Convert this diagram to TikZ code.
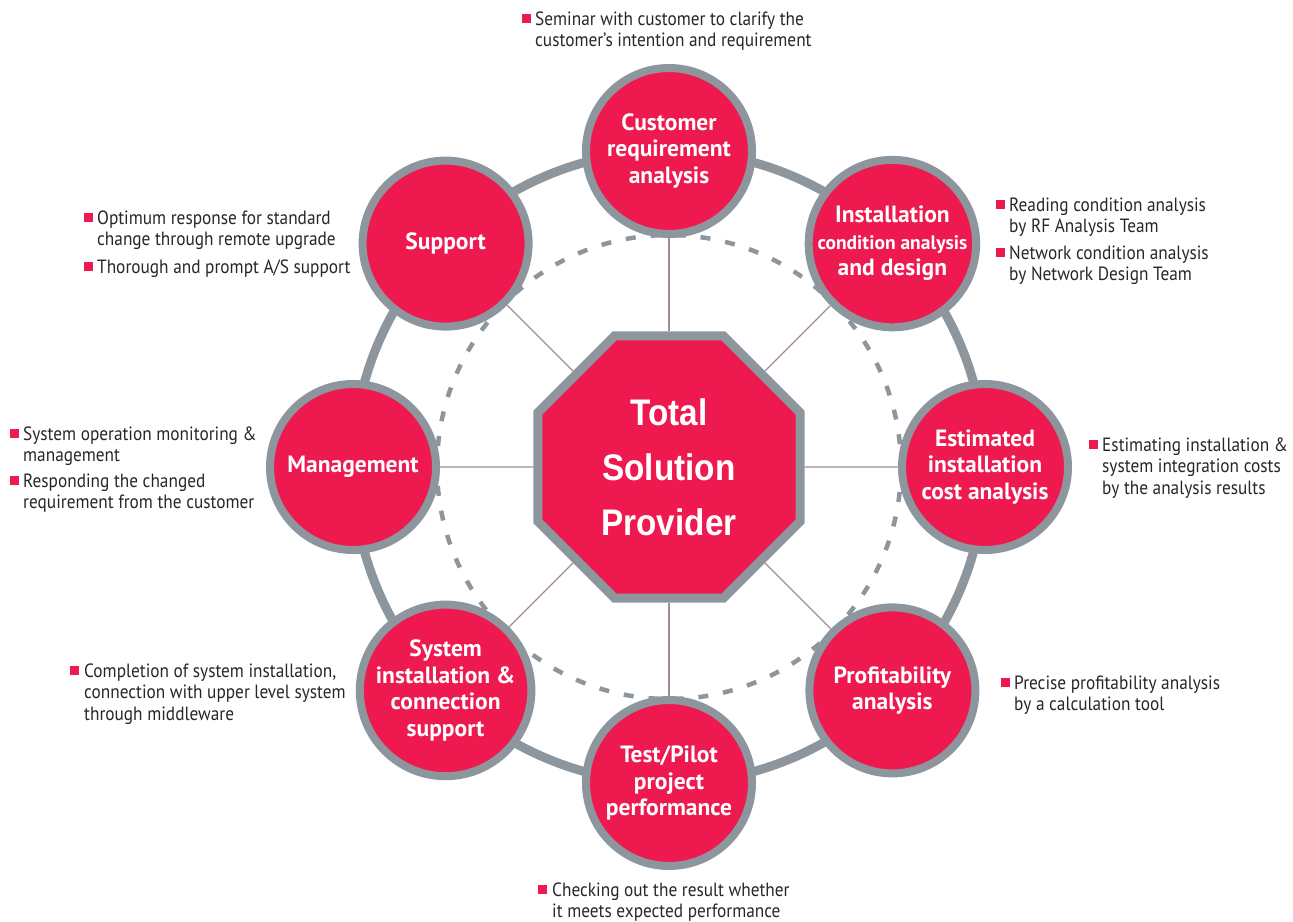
\documentclass[tikz,border=0pt]{standalone}
\usepackage{fontspec}
\setmainfont{PT Sans}
\newfontfamily\notefont[FakeStretch=0.9]{PT Sans}
\newfontfamily\hubfont[FakeStretch=0.9]{Liberation Sans}
\usetikzlibrary{shapes.geometric,backgrounds}
\definecolor{tred}{HTML}{EE1A4F}
\definecolor{tgray}{HTML}{8E969D}
\definecolor{ttext}{HTML}{2A2526}
\definecolor{tspoke}{HTML}{A08E92}
\newcommand{\mlines}[1]{\begin{tabular}[t]{@{}l@{}}#1\end{tabular}}
\begin{document}
\begin{tikzpicture}[x=1pt,y=-1pt,
  stage/.style={circle, fill=tred, draw=tgray, line width=8pt, minimum size=166pt, inner sep=0pt, text=white, align=center, font=\bfseries\fontsize{23.5}{26.5}\selectfont},
  hub/.style={regular polygon, regular polygon sides=8, fill=tred, draw=tgray, line width=9pt, minimum size=284pt, inner sep=0pt, text=white, align=center, font=\hubfont\bfseries\fontsize{37}{55}\selectfont},
  note/.style={anchor=base west, inner sep=0pt, text=ttext, font=\notefont\fontsize{19.2}{21.5}\selectfont},
  bul/.style={fill=tred, minimum size=9pt, inner sep=0pt},
  spoke/.style={draw=tspoke, line width=1.3pt},
  ringline/.style={draw=tgray, line width=9pt},
  dashring/.style={draw=tgray, line width=4.5pt, dash pattern=on 10pt off 15pt},
]
\useasboundingbox (0,0) rectangle (1293,921);
\node[hub] (hub) at (669,467) {Total\\Solution\\Provider};
\node[stage] (c1) at (669,151) {Customer\\requirement\\analysis};
\node[stage] (c2) at (892.4,243.6) {Installation\\{\fontsize{19.5}{26.5}\selectfont condition analysis}\\and design};
\node[stage] (c3) at (985,467) {Estimated\\installation\\cost analysis};
\node[stage] (c4) at (892.4,690.4) {Profitability\\analysis};
\node[stage] (c5) at (669,783) {Test/Pilot\\project\\performance};
\node[stage] (c6) at (445.6,690.4) {System\\installation \&\\connection\\support};
\node[stage] (c7) at (353,467) {Management};
\node[stage] (c8) at (445.6,243.6) {Support};
\begin{scope}[on background layer]
  \draw[dashring] (hub.center) circle[radius=232];
  \draw[ringline] (hub.center) circle[radius=316];
  \foreach \c in {c1,c2,c3,c4,c5,c6,c7,c8} \draw[spoke] (hub) -- (\c);
\end{scope}
% notes
\node[bul] (b1) at (526,18) {};
\node[note] (n1) at (535,25) {\mlines{Seminar with customer to clarify the\\customer’s intention and requirement}};
\node[bul] (b2) at (1000,204) {};
\node[note] (n2) at (1009,211) {\mlines{Reading condition analysis\\by RF Analysis Team}};
\node[bul] (b3) at (1000,252) {};
\node[note] (n3) at (1009,259) {\mlines{Network condition analysis\\by Network Design Team}};
\node[bul] (b4) at (1093,444) {};
\node[note] (n4) at (1102,451) {\mlines{Estimating installation \&\\system integration costs\\by the analysis results}};
\node[bul] (b5) at (1005,682) {};
\node[note] (n5) at (1014,689) {\mlines{Precise profitability analysis\\by a calculation tool}};
\node[bul] (b6) at (542,889) {};
\node[note] (n6) at (552,896) {\mlines{Checking out the result whether\\it meets expected performance}};
\node[bul] (b7) at (74,670) {};
\node[note] (n7) at (84,677) {\mlines{Completion of system installation,\\connection with upper level system\\through middleware}};
\node[bul] (b8) at (14,433) {};
\node[note] (n8) at (23,440) {\mlines{System operation monitoring \&\\management}};
\node[bul] (b9) at (14,480) {};
\node[note] (n9) at (23,487) {\mlines{Responding the changed\\requirement from the customer}};
\node[bul] (b10) at (88,217) {};
\node[note] (n10) at (97,224) {\mlines{Optimum response for standard\\change through remote upgrade}};
\node[bul] (b11) at (88,266) {};
\node[note] (n11) at (97,273) {\mlines{Thorough and prompt A/S support}};
\end{tikzpicture}
\end{document}
